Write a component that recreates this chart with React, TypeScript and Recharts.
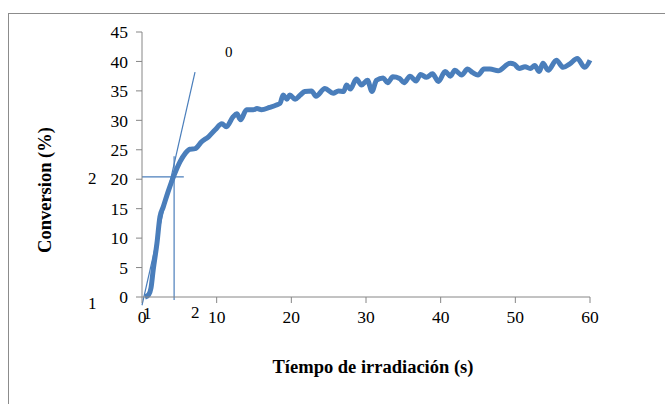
import { Line, LineChart, ReferenceLine, XAxis, YAxis } from 'recharts'

const time = [
  0.4, 0.9, 1.2, 1.5, 2.0, 2.4, 2.85, 3.5, 4.3, 5.1, 5.8, 6.4, 7.1, 8.0, 8.9, 9.8, 10.7, 11.3, 12.2, 12.7,
  13.2, 14.0, 14.9, 15.4, 16.0, 17.1, 18.0, 18.5, 18.9, 19.4, 19.8, 20.5, 21.2, 21.8, 22.7, 23.3, 24.5, 25.6,
  26.3, 27.0, 27.4, 27.9, 28.7, 29.4, 30.2, 30.8, 31.4, 32.3, 32.9, 33.6, 34.5, 35.1, 35.9, 36.7, 37.3, 38.1,
  38.9, 39.7, 40.6, 41.3, 41.9, 42.8, 43.6, 44.3, 45.0, 45.8, 46.6, 47.7, 49.3, 49.9, 50.5, 51.3, 52.0, 52.6,
  53.2, 53.7, 54.4, 55.5, 56.4, 57.3, 58.3, 59.3, 60.0,
]

const conversion = [
  0, 0.4, 1.5, 4.6, 9.1, 13.6, 15.3, 17.9, 20.7, 23.0, 24.4, 25.1, 25.2, 26.4, 27.2, 28.4, 29.4, 28.9, 30.6, 31.1,
  30.1, 31.8, 31.8, 32.0, 31.8, 32.2, 32.6, 32.9, 34.3, 33.6, 34.3, 33.6, 34.3, 34.9, 35.0, 34.1, 35.4, 34.6,
  35.0, 34.9, 36.0, 35.3, 37.0, 36.0, 36.8, 34.9, 36.8, 37.2, 36.4, 37.4, 37.1, 36.4, 37.5, 36.7, 37.8, 37.3,
  37.9, 36.6, 38.3, 37.5, 38.5, 37.7, 38.7, 38.1, 37.7, 38.7, 38.7, 38.4, 39.7, 39.5, 38.8, 39.1, 38.8, 39.3,
  38.3, 39.7, 38.5, 40.2, 39.0, 39.6, 40.5, 39.0, 40.2,
]

const xTicks = [0, 10, 20, 30, 40, 50, 60]
const yTicks = [0, 5, 10, 15, 20, 25, 30, 35, 40, 45]

// construction lines drawn over the curve (tangent, and the crosshair at the inflection)
const tangentLine = [
  { x: 0, y: -1.4 },
  { x: 7.1, y: 38.2 },
]
const hLine = [
  { x: 0, y: 20.4 },
  { x: 5.6, y: 20.4 },
]
const vLine = [
  { x: 4.3, y: 23.9 },
  { x: 4.3, y: -0.5 },
]

const data = time.map((t, i) => ({ t, v: conversion[i] }))

const FONT = '"Liberation Serif", "Times New Roman", serif'
const BLUE = '#4a7ebb'
const AXIS = '#868686'

const note = (left: number, top: number, size = 17): React.CSSProperties => ({
  position: 'absolute',
  left,
  top,
  fontFamily: FONT,
  fontSize: size,
  lineHeight: 1,
  color: '#000',
})

export default function App() {
  return (
    <div style={{ position: 'absolute', left: 0, top: 0, width: 665, height: 404, overflow: 'hidden', background: '#fff' }}>
      <div
        style={{
          position: 'absolute',
          left: 8,
          top: 13,
          width: 700,
          height: 500,
          border: '1px solid #8c8c8c',
        }}
      />
      <LineChart
        width={665}
        height={404}
        data={data}
        margin={{ top: 32, right: 75, left: 82, bottom: 77 }}
        style={{ position: 'absolute', left: 0, top: 0 }}
      >
        <XAxis
          dataKey="t"
          type="number"
          domain={[0, 60]}
          ticks={xTicks}
          height={30}
          stroke={AXIS}
          tickSize={6}
          tickMargin={8}
          tick={{ fill: '#000', fontFamily: FONT, fontSize: 17.5 }}
          label={{
            value: 'Tíempo de irradiación (s)',
            position: 'insideBottom',
            offset: -46,
            dx: 7,
            fill: '#000',
            fontFamily: FONT,
            fontSize: 18.5,
            fontWeight: 'bold',
          }}
        />
        <YAxis
          type="number"
          domain={[0, 45]}
          ticks={yTicks}
          width={60}
          stroke={AXIS}
          tickSize={6}
          tickMargin={8}
          tick={{ fill: '#000', fontFamily: FONT, fontSize: 17.5 }}
        />
        <Line
          type="monotone"
          dataKey="v"
          stroke={BLUE}
          strokeWidth={5}
          dot={false}
          isAnimationActive={false}
        />
        <ReferenceLine segment={tangentLine} stroke={BLUE} strokeWidth={1.2} ifOverflow="visible" />
        <ReferenceLine segment={hLine} stroke={BLUE} strokeWidth={1.2} ifOverflow="visible" />
        <ReferenceLine segment={vLine} stroke={BLUE} strokeWidth={1.2} ifOverflow="visible" />
      </LineChart>
      <span
        style={{
          position: 'absolute',
          left: 45,
          top: 190,
          transform: 'translate(-50%, -50%) rotate(-90deg)',
          whiteSpace: 'nowrap',
          fontFamily: FONT,
          fontSize: 18.5,
          fontWeight: 'bold',
          lineHeight: 1,
          color: '#000',
        }}
      >
        Conversion (%)
      </span>
      <span style={note(225, 45, 15)}>0</span>
      <span style={note(88, 170)}>2</span>
      <span style={note(88, 295)}>1</span>
      <span style={note(143, 305)}>1</span>
      <span style={note(191, 304)}>2</span>
    </div>
  )
}
